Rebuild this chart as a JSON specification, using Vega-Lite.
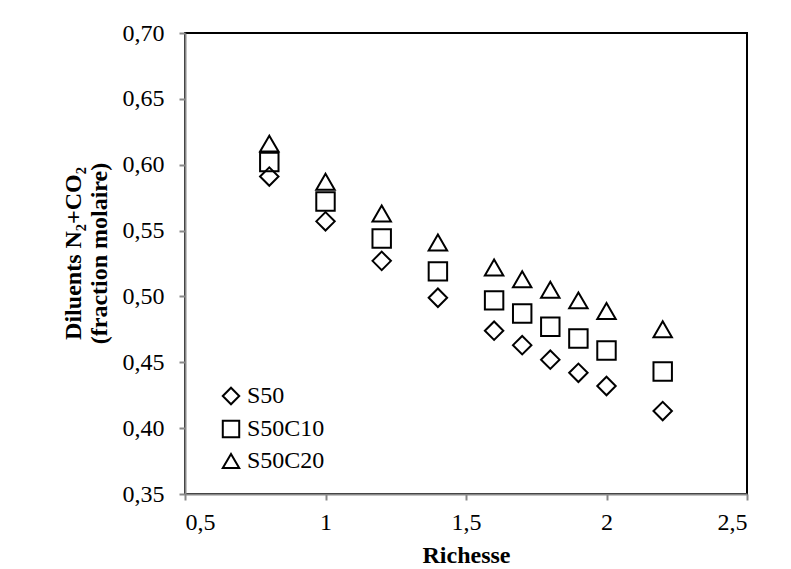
{
  "$schema": "https://vega.github.io/schema/vega-lite/v6.json",
  "autosize": "none",
  "width": 562,
  "height": 461,
  "padding": {"left": 185, "top": 33, "right": 44, "bottom": 75},
  "background": "white",
  "config": {
    "locale": {"number": {"decimal": ",", "thousands": ".", "grouping": [3], "currency": ["", " €"]}},
    "font": "Liberation Serif",
    "view": {"stroke": "black", "strokeWidth": 2},
    "axis": {
      "grid": false,
      "domainColor": "#888888",
      "domainWidth": 2,
      "tickColor": "#888888",
      "tickWidth": 2,
      "tickSize": 6,
      "labelFont": "Liberation Serif",
      "labelFontSize": 24,
      "labelColor": "black",
      "titleFont": "Liberation Serif",
      "titleFontSize": 24,
      "titleFontWeight": "bold",
      "titleColor": "black"
    }
  },
  "data": {
    "values": [
      {"r": 0.8, "d": 0.591, "s": "S50"},
      {"r": 1.0, "d": 0.557, "s": "S50"},
      {"r": 1.2, "d": 0.527, "s": "S50"},
      {"r": 1.4, "d": 0.499, "s": "S50"},
      {"r": 1.6, "d": 0.474, "s": "S50"},
      {"r": 1.7, "d": 0.463, "s": "S50"},
      {"r": 1.8, "d": 0.452, "s": "S50"},
      {"r": 1.9, "d": 0.442, "s": "S50"},
      {"r": 2.0, "d": 0.432, "s": "S50"},
      {"r": 2.2, "d": 0.413, "s": "S50"},
      {"r": 0.8, "d": 0.602, "s": "S50C10"},
      {"r": 1.0, "d": 0.572, "s": "S50C10"},
      {"r": 1.2, "d": 0.544, "s": "S50C10"},
      {"r": 1.4, "d": 0.519, "s": "S50C10"},
      {"r": 1.6, "d": 0.497, "s": "S50C10"},
      {"r": 1.7, "d": 0.487, "s": "S50C10"},
      {"r": 1.8, "d": 0.477, "s": "S50C10"},
      {"r": 1.9, "d": 0.468, "s": "S50C10"},
      {"r": 2.0, "d": 0.459, "s": "S50C10"},
      {"r": 2.2, "d": 0.443, "s": "S50C10"},
      {"r": 0.8, "d": 0.616, "s": "S50C20"},
      {"r": 1.0, "d": 0.587, "s": "S50C20"},
      {"r": 1.2, "d": 0.563, "s": "S50C20"},
      {"r": 1.4, "d": 0.541, "s": "S50C20"},
      {"r": 1.6, "d": 0.522, "s": "S50C20"},
      {"r": 1.7, "d": 0.513, "s": "S50C20"},
      {"r": 1.8, "d": 0.505, "s": "S50C20"},
      {"r": 1.9, "d": 0.497, "s": "S50C20"},
      {"r": 2.0, "d": 0.489, "s": "S50C20"},
      {"r": 2.2, "d": 0.475, "s": "S50C20"}
    ]
  },
  "mark": {"type": "point", "filled": false, "color": "black", "strokeWidth": 2, "size": 340, "opacity": 1},
  "encoding": {
    "x": {
      "field": "r",
      "type": "quantitative",
      "scale": {"domain": [0.5, 2.5], "nice": false, "zero": false},
      "axis": {
        "values": [0.5, 1, 1.5, 2, 2.5],
        "format": ".1~f",
        "labelPadding": 10,
        "title": "Richesse",
        "titleY": 68,
        "titleBaseline": "alphabetic"
      }
    },
    "y": {
      "field": "d",
      "type": "quantitative",
      "scale": {"domain": [0.35, 0.7], "nice": false, "zero": false},
      "axis": {
        "values": [0.35, 0.4, 0.45, 0.5, 0.55, 0.6, 0.65, 0.7],
        "format": ".2f",
        "labelPadding": 15,
        "title": ["Diluents N₂+CO₂", "(fraction molaire)"],
        "titleAngle": -90,
        "titleX": -112,
        "titleY": 220,
        "titleAlign": "center",
        "titleBaseline": "middle",
        "titleLineHeight": 26
      }
    },
    "shape": {
      "field": "s",
      "type": "nominal",
      "scale": {"domain": ["S50", "S50C10", "S50C20"], "range": ["diamond", "square", "triangle-up"]},
      "legend": {
        "title": null,
        "orient": "none",
        "legendX": 34,
        "legendY": 351,
        "symbolSize": 270,
        "symbolStrokeWidth": 2,
        "symbolStrokeColor": "black",
        "labelFont": "Liberation Serif",
        "labelFontSize": 24,
        "labelColor": "black",
        "labelOffset": 4,
        "rowPadding": 7
      }
    }
  }
}
